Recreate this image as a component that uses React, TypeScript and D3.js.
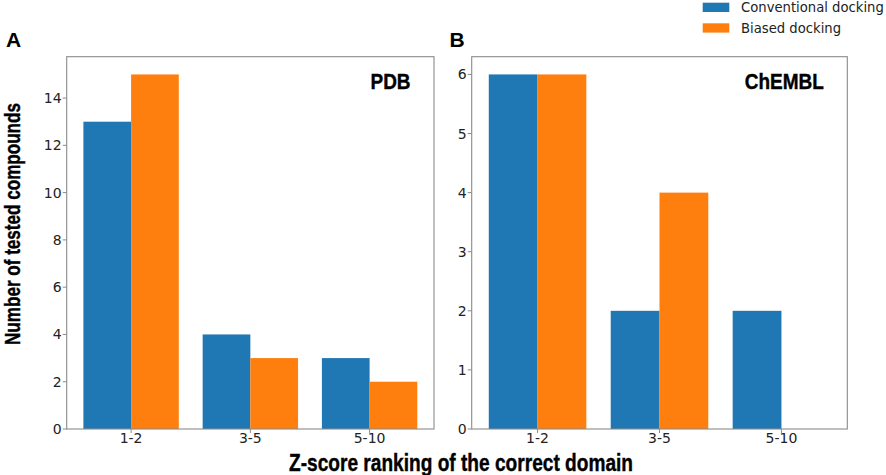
import * as d3 from "d3";

const categories = ["1-2", "3-5", "5-10"];
const seriesNames = ["Conventional docking", "Biased docking"];
const seriesColors = ["#1f77b4", "#ff7f0e"];

const pdbConventional = [13, 4, 3];
const pdbBiased = [15, 3, 2];
const chemblConventional = [6, 2, 2];
const chemblBiased = [6, 4, 0];

const pdbTicks = [0, 2, 4, 6, 8, 10, 12, 14];
const chemblTicks = [0, 1, 2, 3, 4, 5, 6];

const W = 886, H = 475;
const TOP = 56.7, BOTTOM = 429;
const boldSans = "'Liberation Sans', Arial, sans-serif";
const sans = "'DejaVu Sans', sans-serif";

// one matplotlib-style bar panel
function Panel({
  left, right, values, ticks, yMax, letter, letterX, title, titleW,
}: {
  left: number; right: number; values: number[][]; ticks: number[];
  yMax: number; letter: string; letterX: number; title: string; titleW: number;
}) {
  const x = d3.scaleLinear().domain([-0.54, categories.length - 1 + 0.54]).range([left, right]);
  const y = d3.scaleLinear().domain([0, yMax]).range([BOTTOM, TOP]);
  const bw = 0.4;
  return (
    <g>
      {values.map((vals, s) =>
        vals.map((v, i) => {
          const x0 = x(i - bw + s * bw), x1 = x(i + s * bw);
          return <rect key={`${s}-${i}`} x={x0} y={y(v)} width={x1 - x0} height={BOTTOM - y(v)} fill={seriesColors[s]} />;
        })
      )}
      <rect x={left} y={TOP} width={right - left} height={BOTTOM - TOP} fill="none" stroke="#8a8a8a" strokeWidth={1.1} />
      {ticks.map((t) => (
        <g key={t}>
          <line x1={left - 4} x2={left} y1={y(t)} y2={y(t)} stroke="#8a8a8a" />
          <text x={left - 5} y={y(t) + 5} textAnchor="end" fontSize={14} fontFamily={sans} fill="#222">{t}</text>
        </g>
      ))}
      {categories.map((c, i) => (
        <g key={c}>
          <line x1={x(i)} x2={x(i)} y1={BOTTOM} y2={BOTTOM + 4} stroke="#8a8a8a" />
          <text x={x(i)} y={BOTTOM + 14} textAnchor="middle" fontSize={14} fontFamily={sans} fill="#222">{c}</text>
        </g>
      ))}
      <text x={right - 23.5 - titleW} y={88.5} fontSize={22} fontWeight="bold" fontFamily={boldSans} fill="#000"
        stroke="#000" strokeWidth={0.4} textLength={titleW} lengthAdjust="spacingAndGlyphs">{title}</text>
      <text x={letterX} y={46.7} fontSize={21} fontWeight="bold" fontFamily={boldSans} fill="#000">{letter}</text>
    </g>
  );
}

export default function App() {
  return (
    <div style={{ position: "absolute", left: 0, top: 0 }}>
      <svg width={W} height={H} style={{ display: "block", background: "#fff" }}>
        <Panel left={66.7} right={434} values={[pdbConventional, pdbBiased]} ticks={pdbTicks} yMax={15.75}
          letter="A" letterX={6} title="PDB" titleW={40} />
        <Panel left={471.7} right={847.3} values={[chemblConventional, chemblBiased]} ticks={chemblTicks} yMax={6.3}
          letter="B" letterX={449.5} title="ChEMBL" titleW={79} />
        {/* legend */}
        {seriesNames.map((n, i) => (
          <g key={n} transform={`translate(702.7, ${2.7 + i * 20.6})`}>
            <rect x={0} y={0} width={26.6} height={9.3} fill={seriesColors[i]} />
            <text x={38.3} y={9.6} fontSize={13.2} fontFamily={sans} fill="#222">{n}</text>
          </g>
        ))}
        <text x={289} y={471} fontSize={24} fontWeight="bold" fontFamily={boldSans} fill="#000"
          stroke="#000" strokeWidth={0.4} textLength={344} lengthAdjust="spacingAndGlyphs">Z-score ranking of the correct domain</text>
        <text transform="translate(19.5, 345) rotate(-90)" fontSize={22.5} fontWeight="bold" fontFamily={boldSans} fill="#000"
          stroke="#000" strokeWidth={0.4} textLength={242} lengthAdjust="spacingAndGlyphs">Number of tested compounds</text>
      </svg>
    </div>
  );
}
